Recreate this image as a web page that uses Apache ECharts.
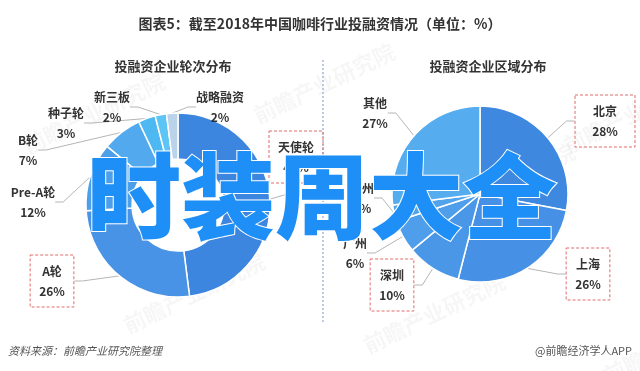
<!DOCTYPE html>
<html><head><meta charset="utf-8">
<script src="https://cdn.jsdelivr.net/npm/echarts@6/dist/echarts.min.js"></script>
<style>html,body{margin:0;padding:0;background:#fff}#c{width:640px;height:371px}</style>
</head><body><div id="c"></div>
<script>
var roundNames = ['天使轮','A轮','Pre-A轮','B轮','种子轮','新三板','战略融资'];
var roundValues = [48, 26, 12, 7, 3, 2, 2];
var regionNames = ['北京','上海','深圳','广州','杭州','其他'];
var regionValues = [28, 26, 10, 6, 3, 27];

var roundColors = ['#3d86df','#4893e6','#4e9fea','#52a9ee','#4db8f1','#5cc5f5','#bad2ea'];
var regionColors = ['#3f88e0','#4690e5','#4a97e8','#4e9eeb','#51a4ec','#55acee'];
var roundBoxed = {'天使轮':1,'A轮':1};
var regionBoxed = {'北京':1,'上海':1,'深圳':1};
var roundLabelPos = [[296,157],[52,281],[33,202],[28,150],[66,123],[112,107],[220,107]];
var regionLabelPos = [[605,121],[588,274],[392,285],[355,253],[362,198],[375,113]];

var FONT = '"Noto Sans CJK SC","Noto Sans",sans-serif';
var chart = echarts.init(document.getElementById('c'), null, {renderer:'canvas'});

function mkData(names, values, colors, boxed){
  return names.map(function(n,i){
    var d = {name:n, value:values[i], itemStyle:{color:colors[i]}};
    if (boxed[n]) {
      d.label = {borderColor:'#e06a6a', borderType:[3,2], borderWidth:1, padding:[7,9,5,9]};
    }
    return d;
  });
}
function layoutFn(pos){
  return function(p){
    var q = pos[p.dataIndex];
    return {x:q[0], y:q[1], align:'center', verticalAlign:'middle'};
  };
}
var labelCommon = {
  show:true, formatter:'{b}\n{c}%', color:'#333', fontSize:12, fontWeight:'bold',
  fontFamily:FONT, lineHeight:20
};
var marks = [];
var wm = [[20,70],[250,40],[560,70],[120,250],[360,270],[600,300],[430,140]];
wm.forEach(function(w){
  marks.push({type:'text', left:w[0], top:w[1], rotation:Math.PI/7, z:0,
    style:{text:'前瞻产业研究院', fill:'rgba(0,0,0,0.035)', font:'bold 22px '+FONT}});
});

chart.setOption({
  animation:false,
  title:[
    {text:'图表5：截至2018年中国咖啡行业投融资情况（单位：%）', left:'center', top:12,
     textStyle:{fontSize:14, fontWeight:'bold', color:'#333', fontFamily:FONT}},
    {text:'投融资企业轮次分布', left:168, top:55, textAlign:'center',
     textStyle:{fontSize:13, fontWeight:'bold', color:'#333', fontFamily:FONT}},
    {text:'投融资企业区域分布', left:483, top:55, textAlign:'center',
     textStyle:{fontSize:13, fontWeight:'bold', color:'#333', fontFamily:FONT}}
  ],
  graphic: marks.concat([
    {type:'line', z:1, shape:{x1:323,y1:60,x2:323,y2:322},
     style:{stroke:'#8fa9d6', lineWidth:1.2, lineDash:[2,2]}},
    {type:'text', left:8, top:345,
     style:{text:'资料来源：前瞻产业研究院整理', fill:'#555', font:'italic 11px '+FONT}},
    {type:'text', right:8, top:345,
     style:{text:'@前瞻经济学人APP', fill:'#555', font:'11px '+FONT}},
    {type:'text', z:100, x:322, y:196,
     style:{text:'时装周大全', fill:'#1e8ff7', stroke:'#fff', lineWidth:2,
       font:'900 94px '+FONT, textAlign:'center', textVerticalAlign:'middle'}}
  ]),
  series:[
    {type:'pie', center:[178,205], radius:[46,92], startAngle:90, clockwise:true,
     itemStyle:{borderColor:'#fff', borderWidth:1.5},
     label:labelCommon,
     labelLine:{show:true, length:12, length2:8, lineStyle:{color:'#b5b5b5', width:1}},
     labelLayout:layoutFn(roundLabelPos),
     data:mkData(roundNames, roundValues, roundColors, roundBoxed)},
    {type:'pie', center:[480,194], radius:[0,88], startAngle:90, clockwise:true,
     itemStyle:{borderColor:'#fff', borderWidth:1.5},
     label:labelCommon,
     labelLine:{show:true, length:12, length2:8, lineStyle:{color:'#b5b5b5', width:1}},
     labelLayout:layoutFn(regionLabelPos),
     data:mkData(regionNames, regionValues, regionColors, regionBoxed)}
  ]
});
</script></body></html>
